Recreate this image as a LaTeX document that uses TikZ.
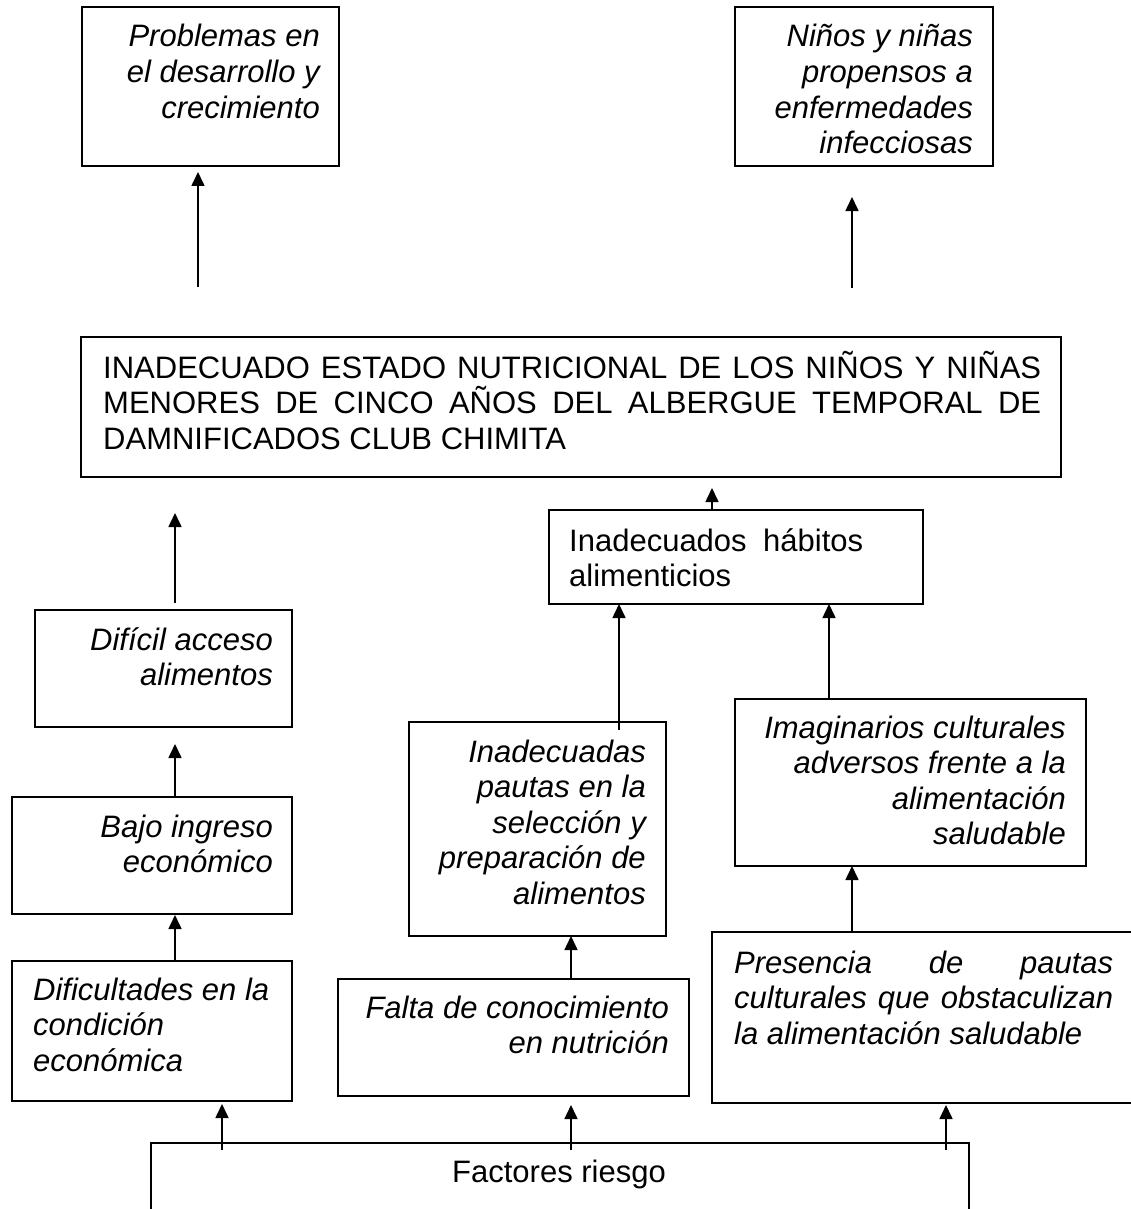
\documentclass[tikz,border=0pt]{standalone}
\usepackage{fontspec}
\setmainfont{Liberation Sans}
\usetikzlibrary{arrows.meta}
\begin{document}
\begin{tikzpicture}[x=1pt,y=-1pt,
  bx/.style={draw, line width=1.7pt, inner sep=0pt, outer sep=0pt, anchor=north west},
  tx/.style={inner sep=0pt, font=\fontsize{31}{35.6}\selectfont\itshape, text width=#1},
  txu/.style={inner sep=0pt, font=\fontsize{31}{35.6}\selectfont, text width=#1},
  arr/.style={line width=1.6pt, -{Triangle[width=13pt,length=14pt]}},
  ln/.style={line width=1.7pt}]
\useasboundingbox (0,0) rectangle (1130,1209);

% boxes
\node[bx, minimum width=257pt, minimum height=159pt] (prob) at (82,7) {};
\node[bx, minimum width=258pt, minimum height=159pt] (nin) at (735,7) {};
\node[bx, minimum width=980pt, minimum height=140pt] (main) at (81,337) {};
\node[bx, minimum width=374pt, minimum height=94pt] (hab) at (549,510) {};
\node[bx, minimum width=257pt, minimum height=117pt] (dif) at (35,610) {};
\node[bx, minimum width=280pt, minimum height=117pt] (bajo) at (12,797) {};
\node[bx, minimum width=280pt, minimum height=140pt] (difc) at (12,961) {};
\node[bx, minimum width=257pt, minimum height=214pt] (paut) at (409,722) {};
\node[bx, minimum width=351pt, minimum height=167pt] (imag) at (735,699) {};
\node[bx, minimum width=351pt, minimum height=117pt] (falta) at (338,979) {};
\node[bx, minimum width=422pt, minimum height=171pt] (pres) at (712,932) {};

% texts
\node[tx=300pt, align=flush right, anchor=base east] (probt) at (320,47) {Problemas en\\el desarrollo y\\crecimiento};
\node[tx=300pt, align=flush right, anchor=base east] (nint) at (973,47) {Niños y niñas\\propensos a\\enfermedades\\infecciosas};
\node[txu=938pt, align=justify, anchor=base west] (maint) at (103,378) {INADECUADO ESTADO NUTRICIONAL DE LOS NIÑOS Y NIÑAS\linebreak MENORES DE CINCO AÑOS DEL ALBERGUE TEMPORAL DE\linebreak DAMNIFICADOS CLUB CHIMITA};
\node[txu=294pt, align=justify, anchor=base west] (habt) at (569,551) {Inadecuados hábitos\linebreak alimenticios};
\node[tx=250pt, align=flush right, anchor=base east] (dift) at (273,650) {Difícil acceso\\alimentos};
\node[tx=250pt, align=flush right, anchor=base east] (bajot) at (273,837) {Bajo ingreso\\económico};
\node[tx=260pt, align=flush left, anchor=base west] (difct) at (33,1000) {Dificultades en la\\condición\\económica};
\node[tx=250pt, align=flush right, anchor=base east] (pautt) at (646,762) {Inadecuadas\\pautas en la\\selección y\\preparación de\\alimentos};
\node[tx=340pt, align=flush right, anchor=base east] (imagt) at (1066,738) {Imaginarios culturales\\adversos frente a la\\alimentación\\saludable};
\node[tx=340pt, align=flush right, anchor=base east] (faltat) at (669,1018) {Falta de conocimiento\\en nutrición};
\node[tx=379pt, align=justify, anchor=base west] (prest) at (734,973) {Presencia de pautas\linebreak culturales que obstaculizan\linebreak la alimentación saludable};
\node[inner sep=0pt, font=\fontsize{31}{35.6}\selectfont, anchor=base] (fact) at (559,1182) {Factores riesgo};

% bracket
\coordinate (bl) at (151,1212);
\coordinate (tl) at (151,1143);
\coordinate (tr) at (969,1143);
\coordinate (br) at (969,1212);
\draw[ln] (bl) -- (tl) -- (tr) -- (br);

% arrow starts
\coordinate (c1) at (198,287);
\coordinate (c2) at (852,288);
\coordinate (c3) at (175,603);
\coordinate (c4) at (712,510);
\coordinate (c5) at (175,797);
\coordinate (c6) at (175,961);
\coordinate (c7) at (619,730);
\coordinate (c8) at (829,699);
\coordinate (c9) at (571,979);
\coordinate (c10) at (852,932);
\coordinate (c11) at (222,1150);
\coordinate (c12) at (571,1150);
\coordinate (c13) at (946,1150);

\draw[arr, shorten >=6pt] (c1) -- (c1 |- prob.south);
\draw[arr, shorten >=31pt] (c2) -- (c2 |- nin.south);
\draw[arr, shorten >=36pt] (c3) -- (c3 |- main.south);
\draw[arr, shorten >=11pt] (c4) -- (c4 |- main.south);
\draw[arr, shorten >=17pt] (c5) -- (c5 |- dif.south);
\draw[arr, shorten >=1pt] (c6) -- (c6 |- bajo.south);
\draw[arr] (c7) -- (c7 |- hab.south);
\draw[arr] (c8) -- (c8 |- hab.south);
\draw[arr] (c9) -- (c9 |- paut.south);
\draw[arr] (c10) -- (c10 |- imag.south);
\draw[arr, shorten >=3pt] (c11) -- (c11 |- difc.south);
\draw[arr, shorten >=9pt] (c12) -- (c12 |- falta.south);
\draw[arr, shorten >=2pt] (c13) -- (c13 |- pres.south);
\end{tikzpicture}
\end{document}
